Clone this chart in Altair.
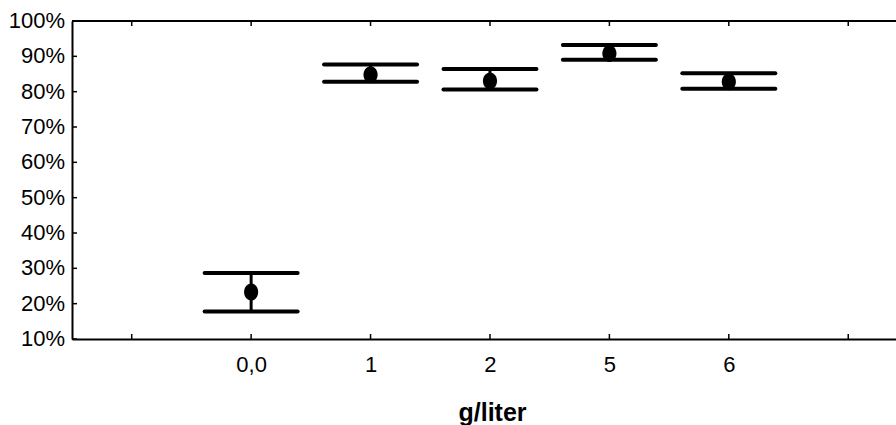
import altair as alt
import pandas as pd

# --- data ---
x_tick_labels = ["", "0,0", "1", "2", "5", "6", ""]
categories = ["0,0", "1", "2", "5", "6"]
means = [23.3, 84.8, 83.0, 90.8, 82.8]
uppers = [28.7, 87.7, 86.4, 93.2, 85.2]
lowers = [17.8, 82.8, 80.6, 89.0, 80.8]
y_ticks = [10, 20, 30, 40, 50, 60, 70, 80, 90, 100]

idx = [x_tick_labels.index(c) for c in categories]
df = pd.DataFrame({"cat": categories, "idx": idx, "mean": means,
                   "upper": uppers, "lower": lowers})
xt = pd.DataFrame({"idx": list(range(len(x_tick_labels)))})
yt = pd.DataFrame({"v": y_ticks, "lab": [f"{v}%" for v in y_ticks]})

W, H = 824, 318
FONT = "Liberation Sans"

label_expr = "[" + ",".join("'%s'" % s for s in x_tick_labels) + "][datum.value]"

xscale = alt.Scale(domain=[-0.5, 6.4], nice=False, zero=False)
yscale = alt.Scale(domain=[10, 100], nice=False, zero=False)

X = alt.X("idx:Q", scale=xscale,
          axis=alt.Axis(values=list(range(len(x_tick_labels))), labelExpr=label_expr,
                        ticks=False, grid=False, domain=True, domainColor="black",
                        domainWidth=2, labelFont=FONT, labelFontSize=22,
                        labelColor="black", labelPadding=15, labelFlush=False,
                        labelOverlap=False, labelBound=False,
                        title="g/liter", titleFont=FONT, titleFontSize=25,
                        titleFontWeight="bold", titleColor="black",
                        titleBaseline="alphabetic", titleY=81, titleX=420,
                        titleAlign="center"))
Y = alt.Y("lower:Q", scale=yscale,
          axis=alt.Axis(values=y_ticks, labels=False, ticks=False,
                        grid=False, domain=True, domainColor="black", domainWidth=2,
                        title=None))

base = alt.Chart(df)

vbar = base.mark_rule(color="black", strokeWidth=3).encode(
    x=X, y=Y, y2="upper:Q")

cap_hi = base.mark_rule(color="black", strokeWidth=4, strokeCap="round",
                        xOffset=-46.5, x2Offset=46.5).encode(
    x=alt.X("idx:Q", scale=xscale), x2="idx:Q",
    y=alt.Y("upper:Q", scale=yscale))
cap_lo = base.mark_rule(color="black", strokeWidth=4, strokeCap="round",
                        xOffset=-46.5, x2Offset=46.5).encode(
    x=alt.X("idx:Q", scale=xscale), x2="idx:Q",
    y=alt.Y("lower:Q", scale=yscale))

dots = base.mark_point(filled=True, color="black", opacity=1, size=200,
                       shape="M0,-1.2A1,1.2,0,1,1,0,1.2A1,1.2,0,1,1,0,-1.2Z").encode(
    x=alt.X("idx:Q", scale=xscale), y=alt.Y("mean:Q", scale=yscale))

top_line = alt.Chart(xt).mark_rule(color="black", strokeWidth=2).encode(
    x=alt.value(0), x2=alt.value(W), y=alt.value(0))

top_ticks = alt.Chart(xt).mark_rule(color="black", strokeWidth=1.5).encode(
    x=alt.X("idx:Q", scale=xscale), y=alt.value(0), y2=alt.value(5))
bot_ticks = alt.Chart(xt).mark_rule(color="black", strokeWidth=1.5).encode(
    x=alt.X("idx:Q", scale=xscale), y=alt.value(H), y2=alt.value(H - 5))
y_tick_marks = alt.Chart(yt).mark_rule(color="black", strokeWidth=1.5).encode(
    y=alt.Y("v:Q", scale=yscale), x=alt.value(0), x2=alt.value(5))

y_labels = alt.Chart(yt).mark_text(font=FONT, fontSize=22, color="black",
                                   align="right", baseline="middle", dx=-7).encode(
    y=alt.Y("v:Q", scale=yscale), x=alt.value(0), text="lab:N")

chart = alt.layer(vbar, cap_hi, cap_lo, dots, top_line, top_ticks, bot_ticks,
                  y_tick_marks, y_labels).properties(
    width=W, height=H, autosize="none",
    padding={"left": 72, "top": 21, "right": 0, "bottom": 86},
    background="white",
).configure_view(stroke=None)

chart.save("out.html", embed_options={"renderer": "svg", "actions": False})
